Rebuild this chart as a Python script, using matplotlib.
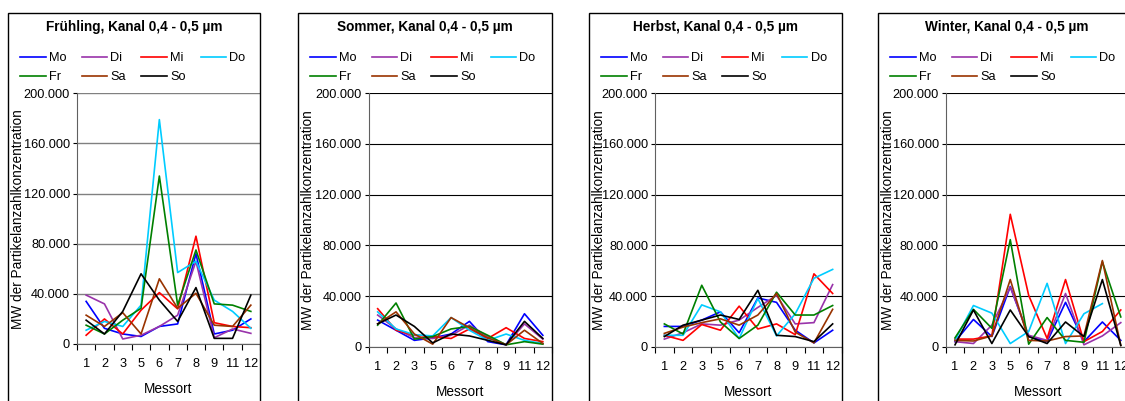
import matplotlib.pyplot as plt
from matplotlib.patches import Rectangle
import numpy as np

plt.rcParams['font.family'] = ['Liberation Sans', 'DejaVu Sans']

# Messorte (category axis)
messorte = ['1', '2', '3', '5', '6', '7', '8', '9', '11', '12']
tage = ['Mo', 'Di', 'Mi', 'Do', 'Fr', 'Sa', 'So']
farben = ['#0000FF', '#9933AA', '#FF0000', '#00CCFF', '#008000', '#993300', '#000000']
titel = ['Frühling, Kanal 0,4 - 0,5 µm', 'Sommer, Kanal 0,4 - 0,5 µm',
         'Herbst, Kanal 0,4 - 0,5 µm', 'Winter, Kanal 0,4 - 0,5 µm']

# values in thousands
fruehling_mo = [34, 12.5, 8, 6, 14, 16, 72, 8, 11, 20]
fruehling_di = [39, 32, 4, 7, 14, 23, 66, 5, 12, 8.5]
fruehling_mi = [7, 20, 8, 27, 41, 28, 86, 17, 14, 13]
fruehling_do = [11, 18, 14, 31, 179, 57, 66, 35, 26, 12.5]
fruehling_fr = [15, 8, 19, 28.5, 134, 31, 75, 32, 31, 26]
fruehling_sa = [23, 14, 25, 8, 52, 28.5, 40.5, 15, 14, 31]
fruehling_so = [19, 8, 26, 56, 35, 18, 45, 4.5, 4.5, 39]

sommer_mo = [21, 13, 5, 7, 10, 20, 4, 1.5, 26, 9]
sommer_di = [25, 14, 7, 6.5, 9, 17, 8, 1.5, 18, 6]
sommer_mi = [30, 13, 9, 8, 6.5, 14, 6.5, 15, 6.5, 4]
sommer_do = [27.5, 14, 9.5, 8.5, 23, 13, 5, 10, 5, 2.5]
sommer_fr = [17, 34.5, 6, 8, 14, 16, 9, 1.5, 4, 2]
sommer_sa = [18, 27.5, 10, 2, 23, 15, 7, 1.5, 13, 2.5]
sommer_so = [18, 25, 16, 3, 10, 8.5, 5, 1.5, 20, 6.5]

herbst_mo = [16, 16, 21, 27.5, 11, 38.5, 35, 13, 3, 13]
herbst_di = [6, 11, 18, 17, 21, 31, 40.5, 18, 19, 49]
herbst_mi = [9, 5, 17.5, 13, 32, 14, 18, 9.5, 57.5, 42]
herbst_do = [9, 9, 33, 27.5, 6.5, 38, 8.5, 26, 54, 61]
herbst_fr = [18, 10, 48.5, 19.5, 6.5, 17, 43, 25, 25, 32.5]
herbst_sa = [10.5, 15.5, 19, 22, 17, 25, 42, 11.5, 3, 29.5]
herbst_so = [8, 17, 21, 25, 21.5, 44.5, 9, 8, 4, 18]

winter_mo = [4, 21.5, 8, 47.5, 8, 4, 35, 4, 19.5, 5]
winter_di = [4, 2.5, 17, 47, 9, 5, 42, 1.5, 8.5, 19]
winter_mi = [6, 6, 8.5, 104.5, 40.5, 6.5, 53, 4, 12, 29]
winter_do = [5, 32.5, 26.5, 2.5, 12, 50, 2.5, 26, 34, np.nan]
winter_fr = [7, 29.5, 14.5, 84.5, 2, 23, 5, 3.5, 67, 23.5]
winter_sa = [5, 4.5, 8.5, 53, 5, 4.5, 8, 8.5, 68, 1]
winter_so = [1.5, 29, 2.5, 29, 8, 2.5, 19.5, 8, 53, 1]

jahreszeiten = [
    [fruehling_mo, fruehling_di, fruehling_mi, fruehling_do, fruehling_fr, fruehling_sa, fruehling_so],
    [sommer_mo, sommer_di, sommer_mi, sommer_do, sommer_fr, sommer_sa, sommer_so],
    [herbst_mo, herbst_di, herbst_mi, herbst_do, herbst_fr, herbst_sa, herbst_so],
    [winter_mo, winter_di, winter_mi, winter_do, winter_fr, winter_sa, winter_so],
]

W, H = 1125.0, 401.0
fig = plt.figure(figsize=(W / 100, H / 100), dpi=100)

# pixel layout of the four chart boxes
frame_left = [8, 298, 589, 878]
frame_right = [260, 552, 842, 1135]
ax_left = [77, 368.5, 655, 945.8]
ax_right = [260, 552, 842, 1130]
ax_bottom = [344, 346.7, 346.7, 346.7]
ax_top = [93.3, 93.3, 93.3, 93.3]
grid_col = ['#808080', '#000000', '#000000', '#000000']

x = np.arange(len(messorte))

for i in range(4):
    fig.patches.append(Rectangle((frame_left[i] / W, -0.1), (frame_right[i] - frame_left[i]) / W,
                                 1.1 - 13 / H, transform=fig.transFigure, fill=False,
                                 edgecolor='black', linewidth=1.0))
    fig.text((frame_left[i] + frame_right[i]) / 2 / W, 1 - 27 / H, titel[i],
             ha='center', va='center', fontsize=9.8, fontweight='bold')

    ax = fig.add_axes([ax_left[i] / W, 1 - ax_bottom[i] / H,
                       (ax_right[i] - ax_left[i]) / W, (ax_bottom[i] - ax_top[i]) / H])
    ax.patch.set_visible(False)

    handles = []
    for k in range(7):
        werte = np.array(jahreszeiten[i][k], dtype=float) * 1000
        ln, = ax.plot(x, werte, color=farben[k], linewidth=1.2, label=tage[k])
        handles.append(ln)

    ax.set_xlim(-0.5, len(messorte) - 0.5)
    ax.set_ylim(0, 200000)
    ax.set_yticks(np.arange(0, 200001, 40000))
    ax.set_yticklabels(['{:,.0f}'.format(v).replace(',', '.') for v in np.arange(0, 200001, 40000)])
    ax.set_xticks(x)
    ax.set_xticklabels(messorte)
    ax.set_xticks(np.arange(-0.5, len(messorte)), minor=True)
    ax.tick_params(axis='x', which='major', length=0, pad=10, labelsize=9.2)
    ax.tick_params(axis='x', which='minor', length=4, direction='out', width=0.8)
    ax.tick_params(axis='y', length=3, width=0.8, pad=2, labelsize=9.2)
    ax.grid(axis='y', color=grid_col[i], linewidth=1.0 if i == 0 else 0.8)
    ax.set_axisbelow(True)
    for s in ['top', 'right']:
        ax.spines[s].set_visible(False)
    ax.spines['left'].set_color('#606060')
    ax.spines['bottom'].set_color('#606060')

    ax.set_ylabel('MW der Partikelanzahlkonzentration', fontsize=9.8)
    ax.yaxis.set_label_coords(-(ax_left[i] - frame_left[i] - 17) / (ax_right[i] - ax_left[i]), 0.5)
    ax.set_xlabel('Messort', fontsize=9.8, labelpad=9)

    order = [0, 4, 1, 5, 2, 6, 3]
    ax.legend([handles[j] for j in order], [tage[j] for j in order], ncol=4,
              loc='upper left', bbox_to_anchor=((frame_left[i] + 12) / W, 1 - 52 / H),
              bbox_transform=fig.transFigure, frameon=False, fontsize=9.2,
              handlelength=2.0, handletextpad=0.25, columnspacing=1.2,
              labelspacing=0.55, borderpad=0, borderaxespad=0)

fig.savefig('out.png', dpi=100)
